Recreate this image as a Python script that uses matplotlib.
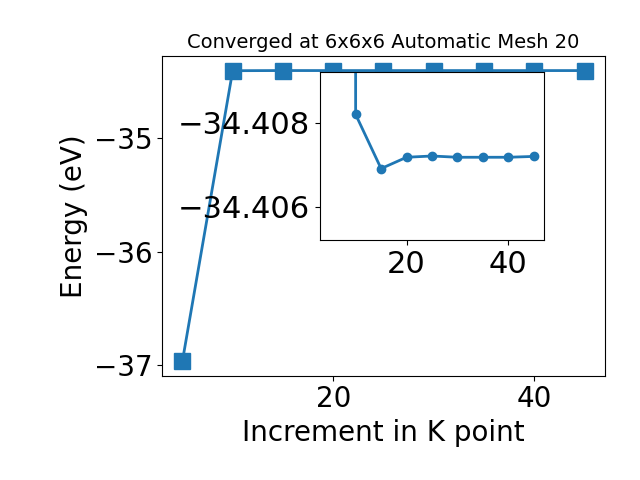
import matplotlib
matplotlib.use("Agg")
import matplotlib.pyplot as plt

# k-point increment vs total energy
kpoints = [5, 10, 15, 20, 25, 30, 35, 40, 45]
energy = [-36.965, -34.40820, -34.40691, -34.40718, -34.40721,
          -34.40718, -34.40718, -34.40718, -34.40720]

fig = plt.figure(figsize=(6.4, 4.8), dpi=100)
ax = fig.add_axes([0.2536, 0.2173, 0.9448 - 0.2536, 0.8833 - 0.2173])
ax.plot(kpoints, energy, 's-', color='tab:blue', lw=2, markersize=11)
ax.set_title('Converged at 6x6x6 Automatic Mesh 20', fontsize=14)
ax.set_xlabel('Increment in K point', fontsize=20)
ax.set_ylabel('Energy (eV)', fontsize=20)
ax.tick_params(labelsize=20)
ax.set_yticks([-37, -36, -35])
ax.set_xticks([20, 40])

# zoomed inset (y axis runs downward)
ins = fig.add_axes([0.5, 0.5, 0.35, 0.35])
ins.plot(kpoints, energy, 'o-', color='tab:blue', lw=2, markersize=6)
ins.set_xlim(ax.get_xlim())
ins.set_ylim(-34.40521, -34.40921)
ins.set_yticks([-34.408, -34.406])
ins.set_xticks([20, 40])
ins.tick_params(labelsize=22)
ins.ticklabel_format(useOffset=False, axis='y')

fig.savefig('out.png')
